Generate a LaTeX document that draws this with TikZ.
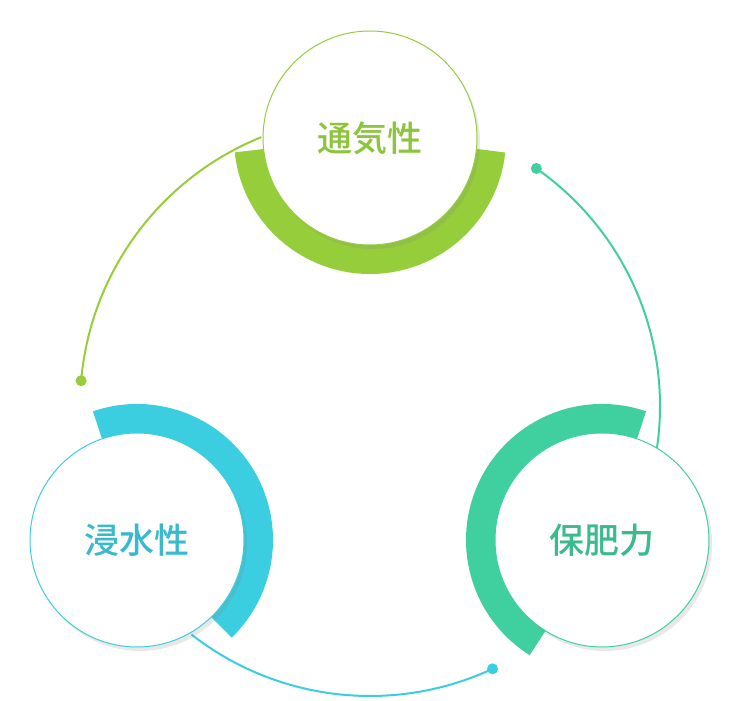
\documentclass[tikz,border=0pt]{standalone}
\usepackage{fontspec}
\newfontfamily\cjk{Noto Sans CJK JP Medium}
\usetikzlibrary{shadows}
\definecolor{kgreen}{HTML}{95CD3B}
\definecolor{kteal}{HTML}{40D09F}
\definecolor{kblue}{HTML}{3BCDE0}
\definecolor{tgreen}{HTML}{8CC43C}
\definecolor{tteal}{HTML}{3BBA8C}
\definecolor{tblue}{HTML}{38B9CE}
\tikzset{
  ball/.style={circle, fill=white, draw=#1, line width=1pt, minimum size=214pt, inner sep=0pt,
    font=\cjk\fontsize{35}{35}\selectfont, drop shadow={opacity=0.18, shadow xshift=3pt, shadow yshift=-4pt}},
  ring/.style={line width=30pt, #1},
  link/.style={line width=2pt, #1},
  dot/.style={circle, fill=#1, inner sep=0pt, minimum size=11pt}
}
\begin{document}
\begin{tikzpicture}[x=1pt,y=1pt]
\useasboundingbox (0,0) rectangle (740,701);
\coordinate (mid) at (370,295);
% connectors
\draw[link=kgreen] (mid) ++(112:290) arc[start angle=112, end angle=175, radius=290] node[dot=kgreen] (dg) {};
\draw[link=kteal] (mid) ++(55:290) node[dot=kteal] (dt) {} arc[start angle=55, end angle=-12, radius=290];
\draw[link=kblue] (mid) ++(232:290) arc[start angle=232, end angle=295, radius=290] node[dot=kblue] (db) {};
% rings
\draw[ring=kgreen] (370,563) ++(186:121) arc[start angle=186, end angle=354, radius=121];
\draw[ring=kblue] (137,161) ++(109:121) arc[start angle=109, end angle=-46, radius=121];
\draw[ring=kteal] (602,161) ++(71:121) arc[start angle=71, end angle=238, radius=121];
% circles
\node[ball=kgreen, text=tgreen] (air) at (370,563) {通気性};
\node[ball=kblue, text=tblue] (water) at (137,161) {浸水性};
\node[ball=kteal, text=tteal] (fert) at (602,161) {保肥力};
\end{tikzpicture}
\end{document}
